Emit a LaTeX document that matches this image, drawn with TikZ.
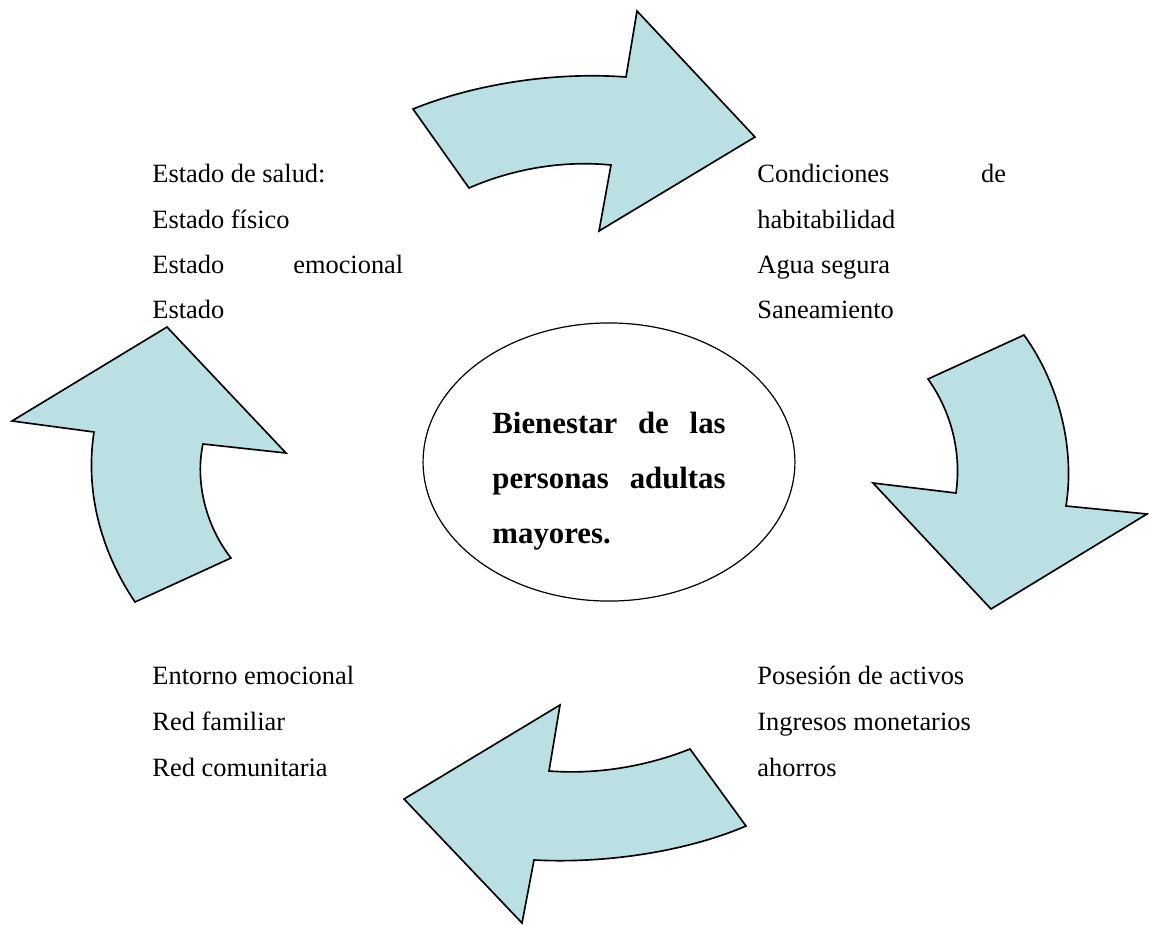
\documentclass[tikz,border=0pt]{standalone}
\usepackage{fontspec}
\setmainfont{Liberation Serif}
\usepackage{xcolor}
\usepackage{tikz}
\usetikzlibrary{shapes.geometric}
\definecolor{flechafill}{RGB}{186,224,227}

\begin{document}
\begin{tikzpicture}[x=0.4545pt,y=-0.4545pt,
  flecha/.style={fill=flechafill,draw=black,line width=0.75pt,line join=miter},
  txt/.style={anchor=base west,inner sep=0pt,font=\fontsize{12}{14}\selectfont},
  centrotxt/.style={anchor=base west,inner sep=0pt,font=\bfseries\fontsize{14}{17}\selectfont}]
\useasboundingbox (0,0) rectangle (1149,924);

% Curved arrows (clockwise cycle)
% top: left to right
\draw[flecha] (413,109) .. controls (480,82) and (560,72) .. (626,77)
  -- (637,11) -- (755,137) -- (599,231) -- (611,165)
  .. controls (560,160) and (510,170) .. (469,188) -- cycle;
% right: downwards
\draw[flecha] (1024,335) -- (928,379) .. controls (950,410) and (962,450) .. (956,493)
  -- (873,483) -- (991,609) -- (1147,514) -- (1066,506)
  .. controls (1075,450) and (1060,385) .. (1024,335) -- cycle;
% bottom: right to left
\draw[flecha] (560,705) -- (404,799) -- (522,923) -- (534,860)
  .. controls (610,864) and (690,850) .. (746,826) -- (690,749)
  .. controls (650,765) and (600,775) .. (549,771) -- cycle;
% left: upwards
\draw[flecha] (167,327) -- (286,453) -- (203,444)
  .. controls (195,480) and (205,525) .. (231,558) -- (135,602)
  .. controls (100,550) and (85,490) .. (94,432) -- (12,421) -- cycle;

% Central ellipse
\node[draw,ellipse,line width=0.55pt,minimum width=169pt,minimum height=126.4pt,inner sep=0pt] (centro) at (609,462) {};
\node[centrotxt] (centro1) at (492,433) {\makebox[106pt][s]{Bienestar de las}};
\node[centrotxt] (centro2) at (492,488) {\makebox[106pt][s]{personas adultas}};
\node[centrotxt] (centro3) at (492,543) {mayores.};

% Upper left block
\node[txt] (salud1) at (152,182) {Estado de salud:};
\node[txt] (salud2) at (152,228) {Estado físico};
\node[txt] (salud3) at (152,273) {\makebox[114pt][s]{Estado emocional}};
\node[txt] (salud4) at (152,318) {Estado};

% Upper right block
\node[txt] (vivienda1) at (757,182) {\makebox[113pt][s]{Condiciones de}};
\node[txt] (vivienda2) at (757,228) {habitabilidad};
\node[txt] (vivienda3) at (757,273) {Agua segura};
\node[txt] (vivienda4) at (757,318) {Saneamiento};

% Lower right block
\node[txt] (activos1) at (757,684) {Posesión de activos};
\node[txt] (activos2) at (757,730) {Ingresos monetarios};
\node[txt] (activos3) at (757,776) {ahorros};

% Lower left block
\node[txt] (entorno1) at (152,684) {Entorno emocional};
\node[txt] (entorno2) at (152,730) {Red familiar};
\node[txt] (entorno3) at (152,776) {Red comunitaria};
\end{tikzpicture}
\end{document}
